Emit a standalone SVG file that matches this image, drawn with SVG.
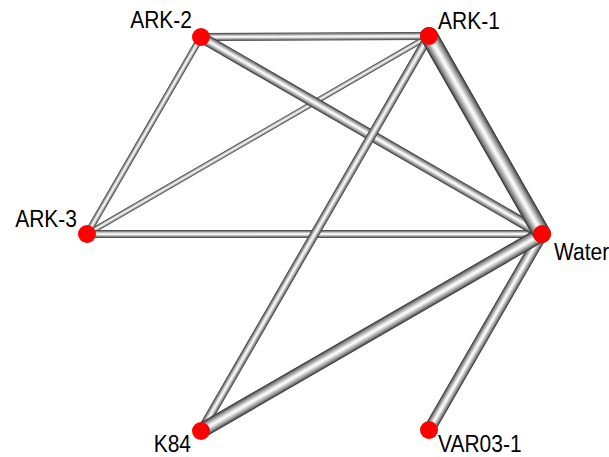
<svg xmlns="http://www.w3.org/2000/svg" xmlns:xlink="http://www.w3.org/1999/xlink" width="609" height="457" viewBox="0 0 609 457">
  <style>
    .tube use { fill: none; stroke-linecap: round; }
    .tube .l1 { stroke: #3c3c3c; stroke-width: calc(var(--w) * 1px); }
    .tube .l2 { stroke: #6a6a6a; stroke-width: calc(var(--w) * 0.86px); }
    .tube .l3 { stroke: #939393; stroke-width: calc(var(--w) * 0.70px); }
    .tube .l4 { stroke: #b8b8b8; stroke-width: calc(var(--w) * 0.52px); }
    .tube .l5 { stroke: #dadada; stroke-width: calc(var(--w) * 0.34px); }
    .tube .l6 { stroke: #f8f8f8; stroke-width: calc(var(--w) * 0.16px); }
    .node circle { fill: #ff0000; }
    .node text { font-family: "Liberation Sans", Arial, sans-serif; font-size: 21px; fill: #000; }
  </style>
  <defs>
    <path id="e-a2-a1" d="M201,37 L429,36"/>
    <path id="e-a2-a3" d="M201,37 L87,234"/>
    <path id="e-a1-a3" d="M429,36 L87,234"/>
    <path id="e-a3-w" d="M87,234 L542,234"/>
    <path id="e-a1-k84" d="M429,36 L201,431"/>
    <path id="e-a2-w" d="M201,37 L542,234"/>
    <path id="e-w-var" d="M542,234 L429,430"/>
    <path id="e-k84-w" d="M201,431 L542,234"/>
    <path id="e-a1-w" d="M429,36 L542,234"/>
  </defs>

  <!-- connectors: shaded tubes, width by weight -->
  <g id="connectors">
    <g class="tube" style="--w:5.5"><use xlink:href="#e-a1-a3" class="l1"/><use xlink:href="#e-a1-a3" class="l2"/><use xlink:href="#e-a1-a3" class="l3"/><use xlink:href="#e-a1-a3" class="l4"/><use xlink:href="#e-a1-a3" class="l5"/><use xlink:href="#e-a1-a3" class="l6"/></g>
    <g class="tube" style="--w:6.5"><use xlink:href="#e-a2-a3" class="l1"/><use xlink:href="#e-a2-a3" class="l2"/><use xlink:href="#e-a2-a3" class="l3"/><use xlink:href="#e-a2-a3" class="l4"/><use xlink:href="#e-a2-a3" class="l5"/><use xlink:href="#e-a2-a3" class="l6"/></g>
    <g class="tube" style="--w:8"><use xlink:href="#e-a2-a1" class="l1"/><use xlink:href="#e-a2-a1" class="l2"/><use xlink:href="#e-a2-a1" class="l3"/><use xlink:href="#e-a2-a1" class="l4"/><use xlink:href="#e-a2-a1" class="l5"/><use xlink:href="#e-a2-a1" class="l6"/></g>
    <g class="tube" style="--w:8"><use xlink:href="#e-a3-w" class="l1"/><use xlink:href="#e-a3-w" class="l2"/><use xlink:href="#e-a3-w" class="l3"/><use xlink:href="#e-a3-w" class="l4"/><use xlink:href="#e-a3-w" class="l5"/><use xlink:href="#e-a3-w" class="l6"/></g>
    <g class="tube" style="--w:11"><use xlink:href="#e-a2-w" class="l1"/><use xlink:href="#e-a2-w" class="l2"/><use xlink:href="#e-a2-w" class="l3"/><use xlink:href="#e-a2-w" class="l4"/><use xlink:href="#e-a2-w" class="l5"/><use xlink:href="#e-a2-w" class="l6"/></g>
    <g class="tube" style="--w:9"><use xlink:href="#e-a1-k84" class="l1"/><use xlink:href="#e-a1-k84" class="l2"/><use xlink:href="#e-a1-k84" class="l3"/><use xlink:href="#e-a1-k84" class="l4"/><use xlink:href="#e-a1-k84" class="l5"/><use xlink:href="#e-a1-k84" class="l6"/></g>
    <g class="tube" style="--w:12"><use xlink:href="#e-w-var" class="l1"/><use xlink:href="#e-w-var" class="l2"/><use xlink:href="#e-w-var" class="l3"/><use xlink:href="#e-w-var" class="l4"/><use xlink:href="#e-w-var" class="l5"/><use xlink:href="#e-w-var" class="l6"/></g>
    <g class="tube" style="--w:15"><use xlink:href="#e-k84-w" class="l1"/><use xlink:href="#e-k84-w" class="l2"/><use xlink:href="#e-k84-w" class="l3"/><use xlink:href="#e-k84-w" class="l4"/><use xlink:href="#e-k84-w" class="l5"/><use xlink:href="#e-k84-w" class="l6"/></g>
    <g class="tube" style="--w:18"><use xlink:href="#e-a1-w" class="l1"/><use xlink:href="#e-a1-w" class="l2"/><use xlink:href="#e-a1-w" class="l3"/><use xlink:href="#e-a1-w" class="l4"/><use xlink:href="#e-a1-w" class="l5"/><use xlink:href="#e-a1-w" class="l6"/></g>
  </g>

  <!-- nodes; labels are drawn slightly taller than wide -->
  <g id="node-ark2" class="node"><circle cx="201" cy="37" r="9"/><text transform="translate(192,27.5) scale(1,1.1)" text-anchor="end">ARK-2</text></g>
  <g id="node-ark1" class="node"><circle cx="429" cy="36" r="9"/><text transform="translate(438,29) scale(1,1.1)">ARK-1</text></g>
  <g id="node-ark3" class="node"><circle cx="87" cy="234" r="9"/><text transform="translate(77,226.5) scale(1,1.1)" text-anchor="end">ARK-3</text></g>
  <g id="node-water" class="node"><circle cx="542" cy="234" r="9"/><text transform="translate(554,260) scale(1,1.1)">Water</text></g>
  <g id="node-k84" class="node"><circle cx="201" cy="431" r="9"/><text transform="translate(191,452) scale(1,1.1)" text-anchor="end">K84</text></g>
  <g id="node-var031" class="node"><circle cx="429" cy="430" r="9"/><text transform="translate(438,452) scale(1,1.1)">VAR03-1</text></g>
</svg>
